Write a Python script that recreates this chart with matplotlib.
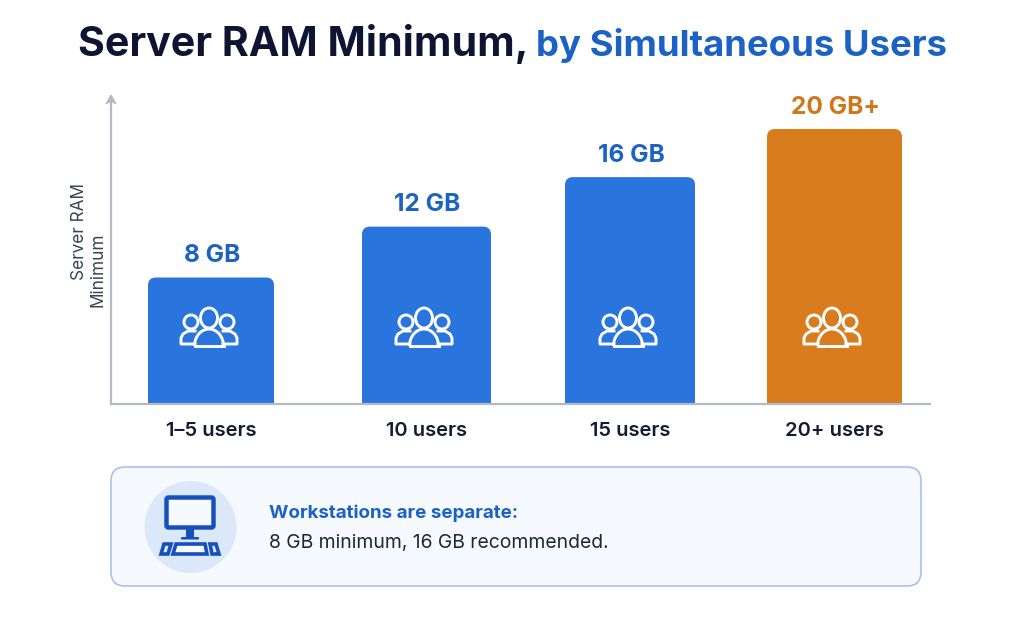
import matplotlib
matplotlib.use('Agg')
import matplotlib.pyplot as plt
from matplotlib.patches import Circle, Ellipse, Arc, FancyBboxPatch, Rectangle, Polygon

plt.rcParams['font.family'] = ['Inter', 'Roboto', 'DejaVu Sans']

# data
categories = ['1–5 users', '10 users', '15 users', '20+ users']
value_labels = ['8 GB', '12 GB', '16 GB', '20 GB+']
bar_heights = [9.2, 12.9, 16.5, 20.0]  # the bars are not to scale with their labels

# layout, in pixels of the 1024x620 picture
bar_lefts = [148, 362, 565, 767]
bar_widths = [126, 129, 130, 135]
icon_x = [209, 424, 628, 832]
label_dy = [22, 22, 22, 22]
bar_colors = ['#2a74de', '#2a74de', '#2a74de', '#d97c1e']
label_colors = ['#1c62c4', '#1c62c4', '#1c62c4', '#d0761c']
DARK = '#141c33'
BLUE = '#1c62c4'
GREY = '#b4b9c4'

fig = plt.figure(figsize=(10.24, 6.2), dpi=100, facecolor='#ffffff')

ax = fig.add_axes([111 / 1024, (620 - 404) / 620, 819 / 1024, 307 / 620])
ax.set_xlim(111, 930)
ax.set_ylim(0, 20.0 * 307 / 275)
px_y = 20.0 / 275  # y units per pixel
for left, w, h, c in zip(bar_lefts, bar_widths, bar_heights, bar_colors):
    ax.add_patch(FancyBboxPatch((left, -1), w, h + 1, boxstyle='round,pad=0,rounding_size=8',
                                mutation_aspect=px_y, fc=c, ec='none'))
for left, w, h, t, c, dy in zip(bar_lefts, bar_widths, bar_heights, value_labels, label_colors, label_dy):
    ax.text(left + w / 2 + 1, h + dy * px_y, t, color=c, fontsize=17.6, fontweight='bold',
            ha='center', va='center')
ax.set_xticks([l + w / 2 for l, w in zip(bar_lefts, bar_widths)], categories,
              fontsize=14.5, fontweight='semibold', color=DARK)
ax.tick_params(axis='x', length=0, pad=13)
ax.set_yticks([])
ax.patch.set_alpha(0)
for s in ['top', 'right']:
    ax.spines[s].set_visible(False)
for s in ['left', 'bottom']:
    ax.spines[s].set_color(GREY)
    ax.spines[s].set_linewidth(1.6)

# overlay in picture pixels for icons, card and title
ov = fig.add_axes([0, 0, 1, 1], zorder=5)
ov.set_xlim(0, 1024)
ov.set_ylim(620, 0)
ov.axis('off')
ov.patch.set_alpha(0)


def people_icon(cx, cy=326, col='white'):
    lw = 2.1
    for dx in [-18, 18]:
        ov.add_patch(Circle((cx + dx, cy - 4), 7, fc='none', ec=col, lw=lw))
    ov.add_patch(Ellipse((cx, cy - 8), 17, 20, fc='none', ec=col, lw=lw))
    # side shoulders
    ov.plot([cx - 14, cx - 21, cx - 26, cx - 28, cx - 28, cx - 14],
            [cy + 5, cy + 5, cy + 8, cy + 12, cy + 18, cy + 18], color=col, lw=lw)
    ov.plot([cx + 14, cx + 21, cx + 26, cx + 28, cx + 28, cx + 14],
            [cy + 5, cy + 5, cy + 8, cy + 12, cy + 18, cy + 18], color=col, lw=lw)
    # middle body
    ov.add_patch(Arc((cx, cy + 20), 29, 34, theta1=180, theta2=360, ec=col, lw=lw))
    ov.plot([cx - 14.5, cx + 14.5], [cy + 20, cy + 20], color=col, lw=lw)


for x in icon_x:
    people_icon(x)

# title, second part placed right after the first
t1 = ov.text(78, 56, 'Server RAM Minimum,', color='#0e1533', fontsize=29.6, fontweight='bold',
             va='baseline', ha='left')
fig.canvas.draw()
end = t1.get_window_extent().x1
ov.text(end + 8, 56, 'by Simultaneous Users', color=BLUE, fontsize=26.3, fontweight='bold',
        va='baseline', ha='left')

# y axis arrow and label
ov.add_patch(Polygon([[111, 95], [106, 104], [111, 101], [116, 104]], closed=True, fc=GREY, ec=GREY, lw=0.8))
ov.text(80, 232, 'Server RAM', rotation=90, fontsize=12.4, color='#3a4256', ha='center', va='center')
ov.text(98, 270, 'Minimum', rotation=90, fontsize=12.4, color='#3a4256', ha='center', va='center')

# card
ov.add_patch(FancyBboxPatch((111, 467), 810, 119, boxstyle='round,pad=0,rounding_size=14',
                            fc='#f6f9fe', ec='#a9c1ea', lw=1.2))
ov.add_patch(Circle((190.5, 527), 46, fc='#dbe8fa', ec='none'))
mon = '#1550bd'
ov.add_patch(FancyBboxPatch((166.5, 497.5), 47, 30, boxstyle='round,pad=0,rounding_size=2',
                            fc='#f6f9fe', ec=mon, lw=3.2))
ov.add_patch(Rectangle((186, 528), 8, 9, fc=mon, ec='none'))
ov.add_patch(FancyBboxPatch((181, 537), 18, 2.5, boxstyle='round,pad=0,rounding_size=1', fc=mon, ec='none'))
ov.add_patch(Polygon([[164, 544], [171, 544], [168, 554], [161, 554]], closed=True, fc='#dbe8fa', ec=mon, lw=2.6))
ov.add_patch(Polygon([[176, 544], [205, 544], [207, 554], [173, 554]], closed=True, fc='#f6f9fe', ec=mon, lw=2.6))
ov.add_patch(Polygon([[210, 544], [216, 544], [219, 554], [212, 554]], closed=True, fc='#dbe8fa', ec=mon, lw=2.6))
ov.text(269, 513, 'Workstations are separate:', color=BLUE, fontsize=13.5, fontweight='bold', va='center', ha='left')
ov.text(269, 543, '8 GB minimum, 16 GB recommended.', color='#1f2737', fontsize=13.9, va='center', ha='left')

fig.savefig('out.png', dpi=100, facecolor=fig.get_facecolor())
